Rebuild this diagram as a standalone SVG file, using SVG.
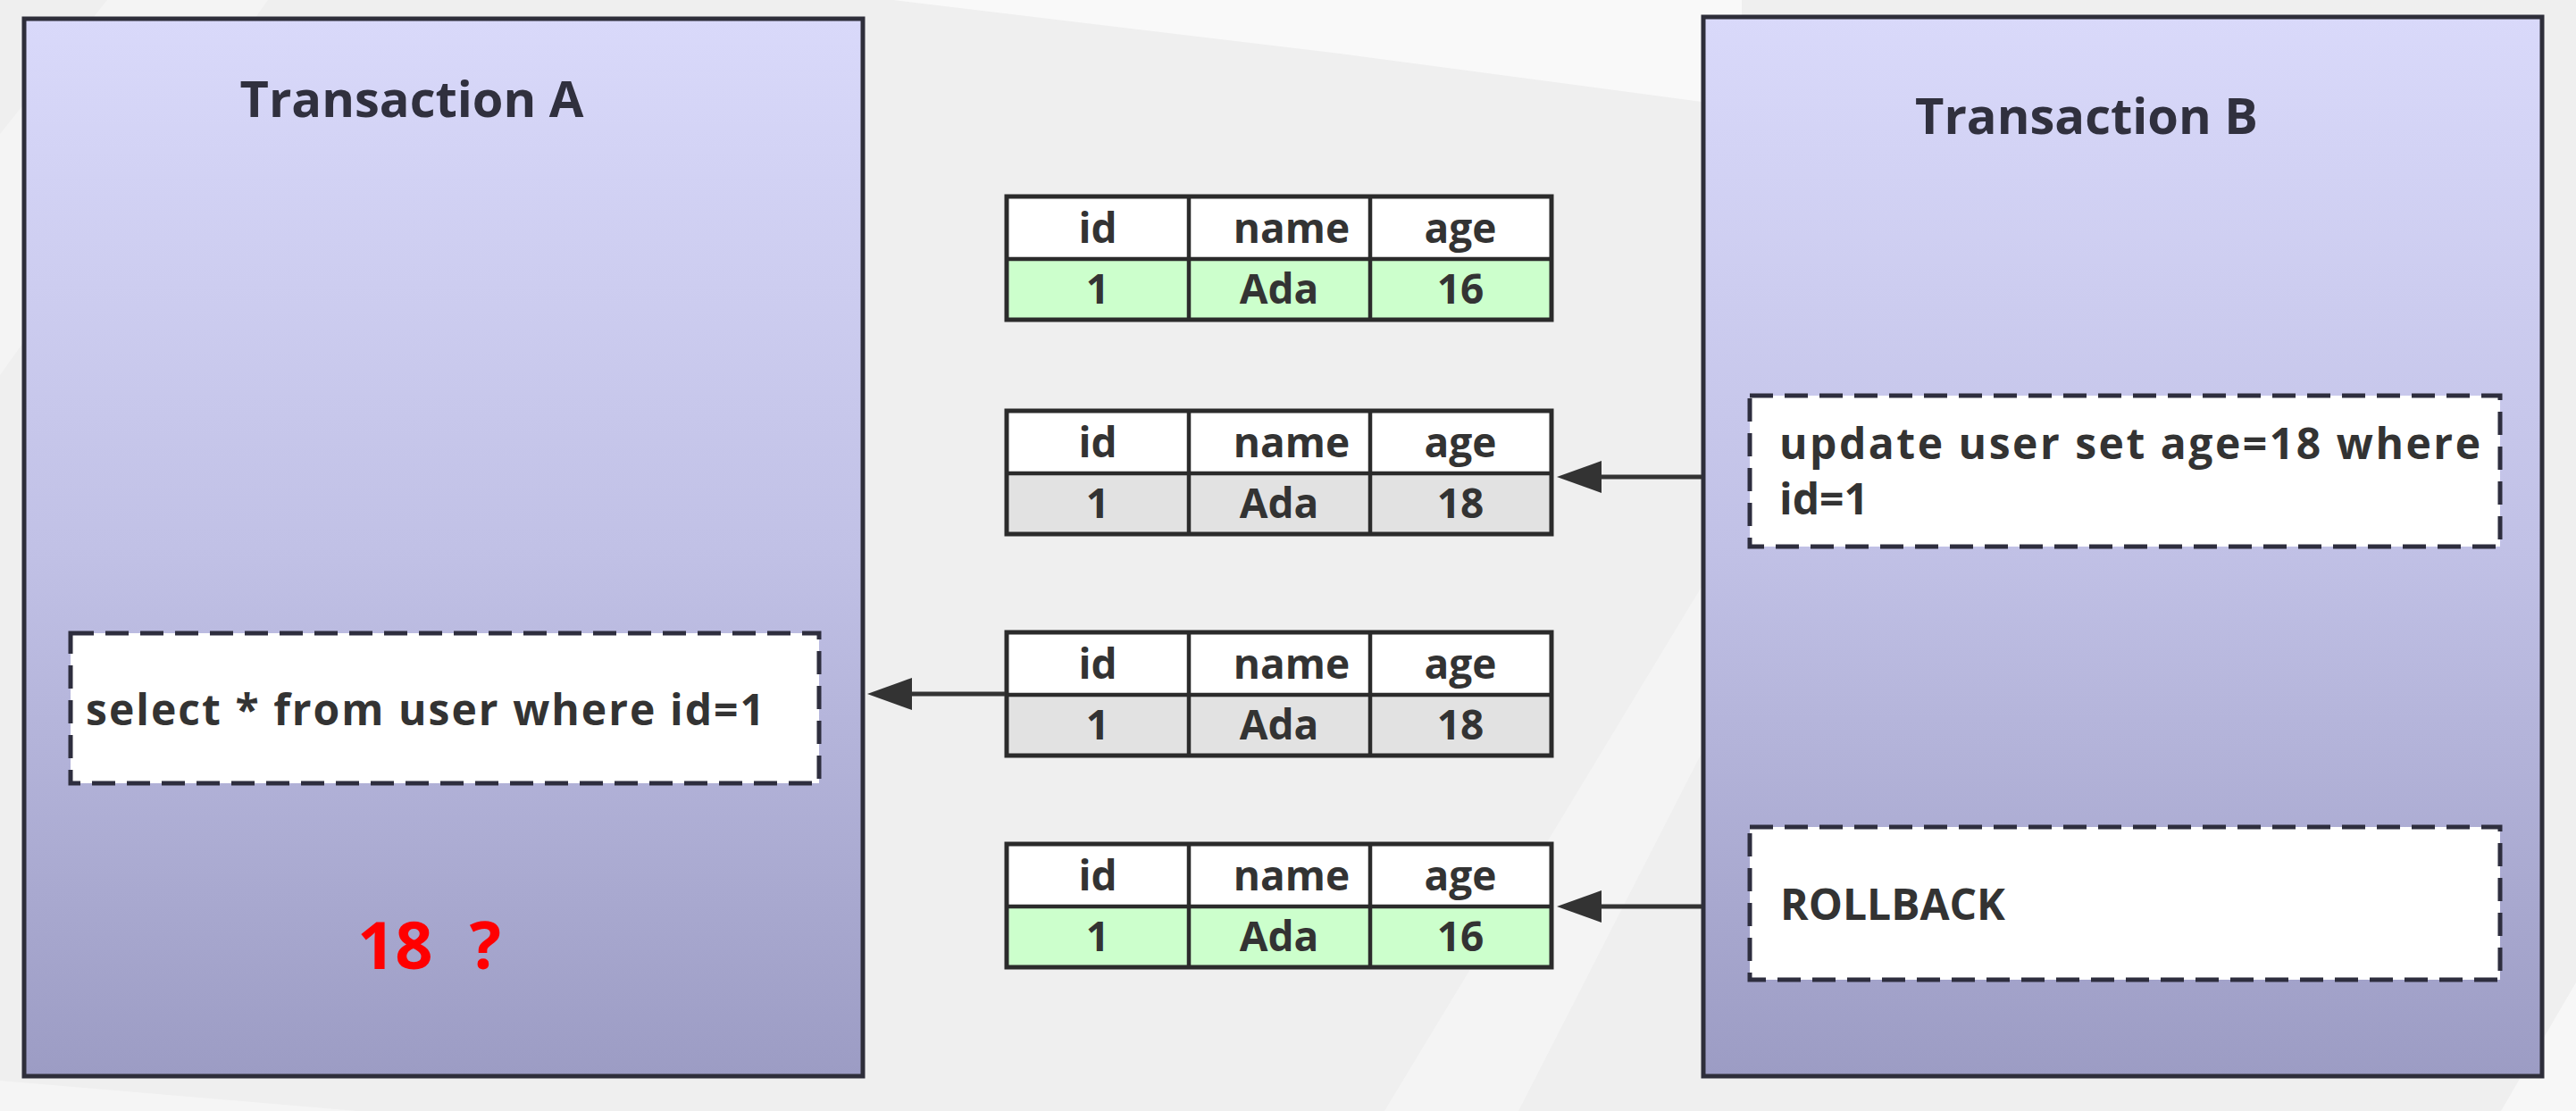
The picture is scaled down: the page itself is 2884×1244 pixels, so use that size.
<svg xmlns="http://www.w3.org/2000/svg" width="2884" height="1244" viewBox="0 0 2884 1244">
  <defs>
    <linearGradient id="boxGrad" x1="0" y1="0" x2="0" y2="1">
      <stop offset="0" stop-color="#d9d9fa"/>
      <stop offset="0.5" stop-color="#c1c1e6"/>
      <stop offset="1" stop-color="#9c9cc4"/>
    </linearGradient>
    <marker id="arrow" markerUnits="userSpaceOnUse" markerWidth="52" markerHeight="38" refX="2" refY="18" orient="auto">
      <path d="M0,0 L50,18 L0,36 Z" fill="#333333"/>
    </marker>
    <style>
      .txt { font-family: "Open Sans", "Noto Sans", "Liberation Sans", sans-serif; font-weight: bold; fill: #333333; }
      .title { font-size: 56px; fill: #30303e; }
      .cell { font-size: 46px; text-anchor: middle; }
      .code { font-size: 48px; }
      .trx { fill: url(#boxGrad); stroke: #2e2e3a; stroke-width: 5; }
      .dash { fill: #ffffff; stroke: #2e2e3e; stroke-width: 5; stroke-dasharray: 26 13; }
      .tbl { fill: none; stroke: #2b2b2b; stroke-width: 5; }
      .grid { stroke: #2b2b2b; stroke-width: 4.5; }
      .head { fill: #ffffff; }
      .green { fill: #ccffcc; }
      .gray { fill: #e2e2e2; }
      .conn { stroke: #333333; stroke-width: 5; fill: none; }
    </style>
  </defs>

  <!-- background -->
  <rect x="0" y="0" width="2884" height="1244" fill="#efefef"/>
  <polygon points="1000,0 1950,0 1950,120 1500,60" fill="#ffffff" opacity="0.6"/>
  <polygon points="0,150 120,0 300,0 0,420" fill="#ffffff" opacity="0.35"/>
  <polygon points="1550,1244 2000,500 2050,560 1700,1244" fill="#ffffff" opacity="0.35"/>
  <polygon points="2800,1244 2884,1100 2884,1244" fill="#ffffff" opacity="0.5"/>
  <polygon points="0,1210 400,1244 0,1244" fill="#ffffff" opacity="0.4"/>

  <!-- Transaction A -->
  <g id="transaction-a">
    <rect class="trx" x="27" y="21" width="939" height="1184"/>
    <text class="txt title" x="461" y="131" text-anchor="middle">Transaction A</text>
  </g>

  <!-- Transaction B -->
  <g id="transaction-b">
    <rect class="trx" x="1907" y="19" width="939" height="1186"/>
    <text class="txt title" x="2336" y="150" text-anchor="middle">Transaction B</text>
  </g>

  <!-- select statement -->
  <g id="select-stmt">
    <rect class="dash" x="79" y="709" width="838" height="168"/>
    <text class="txt code" x="96" y="812" textLength="760">select * from user where id=1</text>
  </g>

  <!-- result label -->
  <g id="result-label">
    <text class="txt" x="400" y="1085" font-size="74" fill="#ff0000" style="fill:#ff0000" word-spacing="22">18 ?</text>
  </g>

  <!-- update statement -->
  <g id="update-stmt">
    <rect class="dash" x="1959" y="443" width="840" height="169"/>
    <text class="txt code" x="1992" y="514" textLength="785">update user set age=18 where</text>
    <text class="txt code" x="1992" y="576">id=1</text>
  </g>

  <!-- rollback -->
  <g id="rollback-stmt">
    <rect class="dash" x="1959" y="926" width="840" height="171"/>
    <text class="txt code" x="1993" y="1030">ROLLBACK</text>
  </g>

  <!-- table 1 -->
  <g id="table-1">
    <rect class="head" x="1127" y="220" width="610" height="70"/>
    <rect class="green" x="1127" y="290" width="610" height="68"/>
    <line class="grid" x1="1127" y1="290" x2="1737" y2="290"/>
    <line class="grid" x1="1331" y1="220" x2="1331" y2="358"/>
    <line class="grid" x1="1534" y1="220" x2="1534" y2="358"/>
    <rect class="tbl" x="1127" y="220" width="610" height="138"/>
    <text class="txt cell" x="1229" y="272">id</text>
    <text class="txt cell" x="1446" y="272">name</text>
    <text class="txt cell" x="1635" y="272">age</text>
    <text class="txt cell" x="1229" y="340">1</text>
    <text class="txt cell" x="1432" y="340">Ada</text>
    <text class="txt cell" x="1635" y="340">16</text>
  </g>

  <!-- table 2 -->
  <g id="table-2">
    <rect class="head" x="1127" y="460" width="610" height="70"/>
    <rect class="gray" x="1127" y="530" width="610" height="68"/>
    <line class="grid" x1="1127" y1="530" x2="1737" y2="530"/>
    <line class="grid" x1="1331" y1="460" x2="1331" y2="598"/>
    <line class="grid" x1="1534" y1="460" x2="1534" y2="598"/>
    <rect class="tbl" x="1127" y="460" width="610" height="138"/>
    <text class="txt cell" x="1229" y="512">id</text>
    <text class="txt cell" x="1446" y="512">name</text>
    <text class="txt cell" x="1635" y="512">age</text>
    <text class="txt cell" x="1229" y="580">1</text>
    <text class="txt cell" x="1432" y="580">Ada</text>
    <text class="txt cell" x="1635" y="580">18</text>
  </g>

  <!-- table 3 -->
  <g id="table-3">
    <rect class="head" x="1127" y="708" width="610" height="70"/>
    <rect class="gray" x="1127" y="778" width="610" height="68"/>
    <line class="grid" x1="1127" y1="778" x2="1737" y2="778"/>
    <line class="grid" x1="1331" y1="708" x2="1331" y2="846"/>
    <line class="grid" x1="1534" y1="708" x2="1534" y2="846"/>
    <rect class="tbl" x="1127" y="708" width="610" height="138"/>
    <text class="txt cell" x="1229" y="760">id</text>
    <text class="txt cell" x="1446" y="760">name</text>
    <text class="txt cell" x="1635" y="760">age</text>
    <text class="txt cell" x="1229" y="828">1</text>
    <text class="txt cell" x="1432" y="828">Ada</text>
    <text class="txt cell" x="1635" y="828">18</text>
  </g>

  <!-- table 4 -->
  <g id="table-4">
    <rect class="head" x="1127" y="945" width="610" height="70"/>
    <rect class="green" x="1127" y="1015" width="610" height="68"/>
    <line class="grid" x1="1127" y1="1015" x2="1737" y2="1015"/>
    <line class="grid" x1="1331" y1="945" x2="1331" y2="1083"/>
    <line class="grid" x1="1534" y1="945" x2="1534" y2="1083"/>
    <rect class="tbl" x="1127" y="945" width="610" height="138"/>
    <text class="txt cell" x="1229" y="997">id</text>
    <text class="txt cell" x="1446" y="997">name</text>
    <text class="txt cell" x="1635" y="997">age</text>
    <text class="txt cell" x="1229" y="1065">1</text>
    <text class="txt cell" x="1432" y="1065">Ada</text>
    <text class="txt cell" x="1635" y="1065">16</text>
  </g>

  <!-- connectors -->
  <g id="connectors">
    <line class="conn" x1="1905" y1="534" x2="1791" y2="534" marker-end="url(#arrow)"/>
    <line class="conn" x1="1125" y1="777" x2="1019" y2="777" marker-end="url(#arrow)"/>
    <line class="conn" x1="1905" y1="1015" x2="1791" y2="1015" marker-end="url(#arrow)"/>
  </g>
</svg>
